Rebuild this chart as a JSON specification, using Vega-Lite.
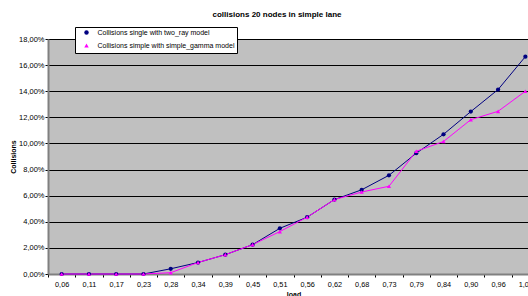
{
  "$schema": "https://vega.github.io/schema/vega-lite/v6.json",
  "autosize": "none",
  "width": 480,
  "height": 235,
  "padding": {"left": 48, "top": 39, "right": 0, "bottom": 22},
  "background": "white",
  "config": {
    "font": "Liberation Sans",
    "view": {"fill": "#C0C0C0", "stroke": "#808080", "strokeWidth": 1}
  },
  "title": {
    "text": "collisions 20 nodes in simple lane",
    "fontSize": 8,
    "fontWeight": "bold",
    "color": "black",
    "frame": "group",
    "offset": 8,
    "dx": -11
  },
  "data": {
    "values": [
      {"load": "0,06", "model": "Collisions single with two_ray model", "value": 0},
      {"load": "0,11", "model": "Collisions single with two_ray model", "value": 0},
      {"load": "0,17", "model": "Collisions single with two_ray model", "value": 0},
      {"load": "0,23", "model": "Collisions single with two_ray model", "value": 0},
      {"load": "0,28", "model": "Collisions single with two_ray model", "value": 0.004},
      {"load": "0,34", "model": "Collisions single with two_ray model", "value": 0.0088},
      {"load": "0,39", "model": "Collisions single with two_ray model", "value": 0.0148},
      {"load": "0,45", "model": "Collisions single with two_ray model", "value": 0.0225},
      {"load": "0,51", "model": "Collisions single with two_ray model", "value": 0.035},
      {"load": "0,56", "model": "Collisions single with two_ray model", "value": 0.0435},
      {"load": "0,62", "model": "Collisions single with two_ray model", "value": 0.057},
      {"load": "0,68", "model": "Collisions single with two_ray model", "value": 0.0645},
      {"load": "0,73", "model": "Collisions single with two_ray model", "value": 0.0756},
      {"load": "0,79", "model": "Collisions single with two_ray model", "value": 0.0925},
      {"load": "0,84", "model": "Collisions single with two_ray model", "value": 0.107},
      {"load": "0,90", "model": "Collisions single with two_ray model", "value": 0.1244},
      {"load": "0,96", "model": "Collisions single with two_ray model", "value": 0.1413},
      {"load": "1,01", "model": "Collisions single with two_ray model", "value": 0.1665},
      {"load": "0,06", "model": "Collisions simple with simple_gamma model", "value": 0},
      {"load": "0,11", "model": "Collisions simple with simple_gamma model", "value": 0},
      {"load": "0,17", "model": "Collisions simple with simple_gamma model", "value": 0},
      {"load": "0,23", "model": "Collisions simple with simple_gamma model", "value": 0},
      {"load": "0,28", "model": "Collisions simple with simple_gamma model", "value": 0.001},
      {"load": "0,34", "model": "Collisions simple with simple_gamma model", "value": 0.0088},
      {"load": "0,39", "model": "Collisions simple with simple_gamma model", "value": 0.0148},
      {"load": "0,45", "model": "Collisions simple with simple_gamma model", "value": 0.0225},
      {"load": "0,51", "model": "Collisions simple with simple_gamma model", "value": 0.0325},
      {"load": "0,56", "model": "Collisions simple with simple_gamma model", "value": 0.0435},
      {"load": "0,62", "model": "Collisions simple with simple_gamma model", "value": 0.057},
      {"load": "0,68", "model": "Collisions simple with simple_gamma model", "value": 0.0628},
      {"load": "0,73", "model": "Collisions simple with simple_gamma model", "value": 0.0672},
      {"load": "0,79", "model": "Collisions simple with simple_gamma model", "value": 0.094},
      {"load": "0,84", "model": "Collisions simple with simple_gamma model", "value": 0.1015},
      {"load": "0,90", "model": "Collisions simple with simple_gamma model", "value": 0.1182},
      {"load": "0,96", "model": "Collisions simple with simple_gamma model", "value": 0.1246},
      {"load": "1,01", "model": "Collisions simple with simple_gamma model", "value": 0.14}
    ]
  },
  "encoding": {
    "x": {
      "field": "load",
      "type": "ordinal",
      "sort": null,
      "scale": {"type": "band", "range": [0, 491], "paddingInner": 0, "paddingOuter": 0},
      "axis": {
        "tickBand": "extent",
        "labelAngle": 0,
        "title": "load",
        "titleFontSize": 7,
        "titleFontWeight": "bold",
        "titleColor": "black",
        "titlePadding": 3,
        "labelFontSize": 7.3,
        "labelColor": "black",
        "labelPadding": 3,
        "tickSize": 3,
        "tickColor": "black",
        "domainColor": "#808080",
        "domainWidth": 2,
        "grid": false
      }
    },
    "y": {
      "field": "value",
      "type": "quantitative",
      "scale": {"domain": [0, 0.18], "nice": false},
      "axis": {
        "values": [0, 0.02, 0.04, 0.06, 0.08, 0.1, 0.12, 0.14, 0.16, 0.18],
        "labelExpr": "replace(format(datum.value, '.2%'), '.', ',')",
        "grid": true,
        "gridColor": "black",
        "gridWidth": 1,
        "title": "Collisions",
        "titleFontSize": 7,
        "titleFontWeight": "bold",
        "titleColor": "black",
        "titlePadding": 2,
        "labelFontSize": 7.5,
        "labelColor": "black",
        "labelPadding": 1,
        "tickSize": 3,
        "tickColor": "black",
        "domainColor": "#808080",
        "domainWidth": 2
      }
    }
  },
  "layer": [
    {
      "mark": {"type": "line", "strokeWidth": 1},
      "encoding": {
        "color": {
          "field": "model",
          "type": "nominal",
          "scale": {
            "domain": ["Collisions single with two_ray model", "Collisions simple with simple_gamma model"],
            "range": ["#000080", "#FF00FF"]
          },
          "legend": null
        }
      }
    },
    {
      "mark": {"type": "point", "filled": true, "size": 18, "opacity": 1},
      "encoding": {
        "color": {
          "field": "model",
          "type": "nominal",
          "legend": {
            "orient": "none",
            "legendX": 27,
            "legendY": -12,
            "title": null,
            "fillColor": "white",
            "strokeColor": "black",
            "padding": 2,
            "symbolSize": 20,
            "symbolOffset": 6,
            "symbolOpacity": 1,
            "labelOffset": 7.5,
            "labelFontSize": 7,
            "labelColor": "black",
            "rowPadding": 2,
            "labelLimit": 300
          }
        },
        "shape": {
          "field": "model",
          "type": "nominal",
          "scale": {
            "domain": ["Collisions single with two_ray model", "Collisions simple with simple_gamma model"],
            "range": ["circle", "triangle-up"]
          },
          "legend": {
            "orient": "none",
            "legendX": 27,
            "legendY": -12,
            "title": null,
            "fillColor": "white",
            "strokeColor": "black",
            "padding": 2,
            "symbolSize": 20,
            "symbolOffset": 6,
            "symbolOpacity": 1,
            "labelOffset": 7.5,
            "labelFontSize": 7,
            "labelColor": "black",
            "rowPadding": 2,
            "labelLimit": 300
          }
        }
      }
    }
  ],
  "resolve": {"legend": {"color": "independent", "shape": "independent"}}
}
